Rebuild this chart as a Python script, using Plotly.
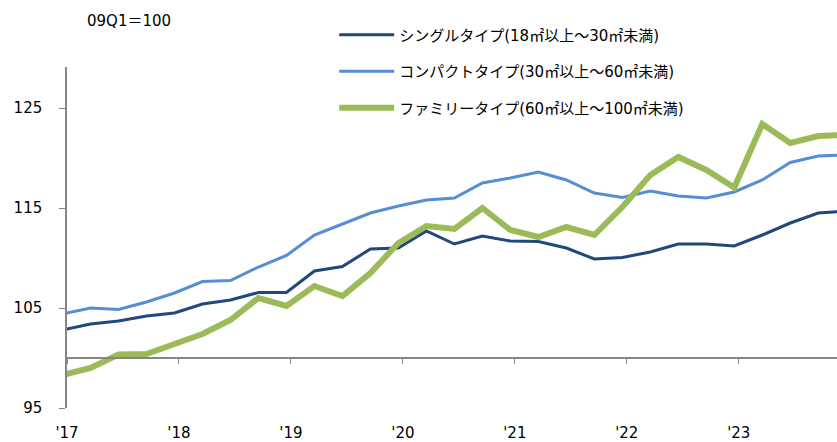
"""
マンション賃料指数（タイプ別）の推移チャート
"""

import plotly.graph_objects as go

# 四半期（'17Q1 〜 '24Q1）
quarters = [
    "17Q1", "17Q2", "17Q3", "17Q4",
    "18Q1", "18Q2", "18Q3", "18Q4",
    "19Q1", "19Q2", "19Q3", "19Q4",
    "20Q1", "20Q2", "20Q3", "20Q4",
    "21Q1", "21Q2", "21Q3", "21Q4",
    "22Q1", "22Q2", "22Q3", "22Q4",
    "23Q1", "23Q2", "23Q3", "23Q4",
    "24Q1",
]

# 09Q1=100 の指数
single = [
    102.8, 103.4, 103.7, 104.2, 104.5, 105.4, 105.8, 106.55,
    106.55, 108.7, 109.15, 110.9, 111.0, 112.7, 111.4, 112.2,
    111.7, 111.65, 111.0, 109.9, 110.05, 110.6, 111.4, 111.4,
    111.2, 112.3, 113.5, 114.5, 114.7,
]
compact = [
    104.4, 105.0, 104.85, 105.6, 106.5, 107.65, 107.75, 109.1,
    110.25, 112.3, 113.4, 114.5, 115.2, 115.8, 116.0, 117.5,
    118.0, 118.6, 117.8, 116.5, 116.05, 116.7, 116.2, 116.0,
    116.6, 117.8, 119.55, 120.2, 120.3,
]
family = [
    98.3, 99.0, 100.35, 100.4, 101.4, 102.4, 103.8, 106.0,
    105.2, 107.2, 106.2, 108.5, 111.5, 113.2, 112.9, 115.0,
    112.8, 112.1, 113.1, 112.3, 115.1, 118.3, 120.1, 118.8,
    117.05, 123.4, 121.5, 122.2, 122.3,
]

year_ticks = [0, 4, 8, 12, 16, 20, 24]
year_labels = ["'17", "'18", "'19", "'20", "'21", "'22", "'23"]

names = [
    "シングルタイプ(18㎡以上～30㎡未満)",
    "コンパクトタイプ(30㎡以上～60㎡未満)",
    "ファミリータイプ(60㎡以上～100㎡未満)",
]
colors = ["#1f497d", "#558ed5", "#9bbb59"]
widths = [3, 3, 6]

# データ点は年の目盛りより少し左に位置している
x = [i - 0.16 for i in range(len(quarters))]

Y_MIN, Y_MAX = 95, 129.1

fig = go.Figure()

for i, (serie, name) in enumerate(zip([single, compact, family], names)):
    fig.add_trace(
        go.Scatter(
            x=x,
            y=serie,
            mode="lines",
            name=name,
            legendgroup=f"g{i}",
            line=dict(color=colors[i], width=widths[i]),
            customdata=quarters,
            hovertemplate="%{customdata}: %{y:.1f}<extra></extra>",
        )
    )

fig.update_layout(
    width=837,
    height=442,
    margin=dict(l=67, r=0, t=67, b=34, autoexpand=False),
    paper_bgcolor="white",
    plot_bgcolor="white",
    font=dict(family="DejaVu Sans, Noto Sans CJK JP", size=15, color="#000000"),
    xaxis=dict(
        range=[0, 27.51],
        anchor="free",
        position=(100 - Y_MIN) / (Y_MAX - Y_MIN),
        tickvals=year_ticks,
        ticktext=year_labels,
        showline=True,
        linecolor="#868686",
        linewidth=1.5,
        ticks="outside",
        ticklen=5,
        tickcolor="#868686",
        ticklabelstandoff=56,
        showgrid=False,
        zeroline=False,
        automargin=False,
    ),
    yaxis=dict(
        range=[Y_MIN, Y_MAX],
        tickvals=[95, 105, 115, 125],
        showline=True,
        linecolor="#868686",
        linewidth=1.5,
        ticks="outside",
        ticklen=6,
        tickcolor="#868686",
        ticklabelstandoff=14,
        showgrid=False,
        zeroline=False,
        automargin=False,
    ),
    legend=dict(
        x=0.347,
        y=1.142,
        xanchor="left",
        yanchor="top",
        bgcolor="rgba(0,0,0,0)",
        traceorder="grouped",
        tracegroupgap=14,
        itemwidth=55,
        font=dict(size=15),
    ),
    annotations=[
        dict(
            text="09Q1＝100",
            xref="paper",
            yref="paper",
            x=(85 - 67) / 770,
            y=1 + (67 - 21) / 341,
            xanchor="left",
            yanchor="middle",
            showarrow=False,
            font=dict(size=15),
        )
    ],
)

# ページ本体の既定余白 (8px) を消して、図をウィンドウいっぱいに置く
fig.write_html(
    "out.html",
    config={"displayModeBar": False},
    post_script="document.body.style.margin = '0';",
)
